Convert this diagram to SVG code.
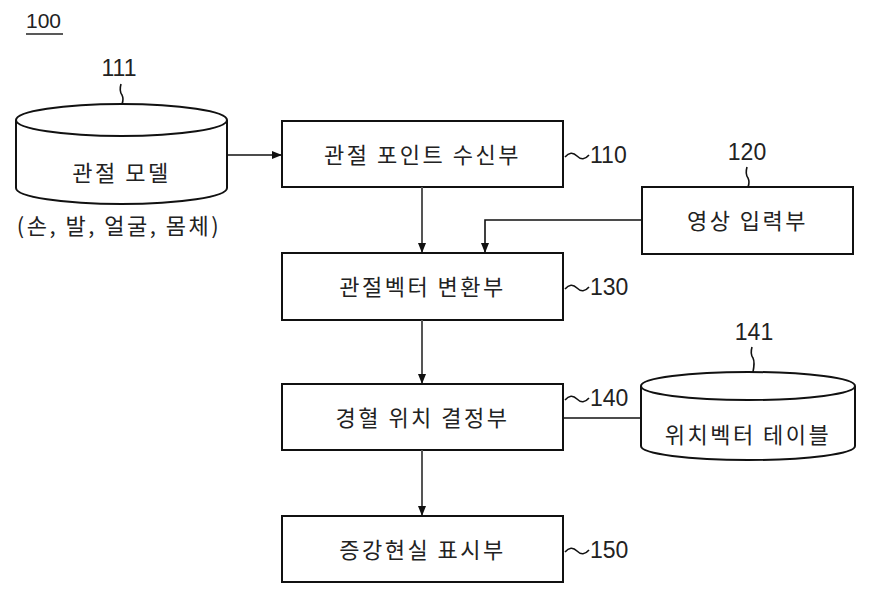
<svg xmlns="http://www.w3.org/2000/svg" width="874" height="601" viewBox="0 0 874 601">
<style>
.box{fill:#fff;stroke:#111;stroke-width:2}
.cyl{fill:#fff;stroke:#111;stroke-width:2}
.kt{font-family:"Noto Sans CJK KR","Noto Sans",sans-serif;font-size:22px;fill:#222;text-anchor:middle;letter-spacing:2.5px}
.num{font-family:"Liberation Sans",Arial,sans-serif;font-size:23px;fill:#222}
.ln{fill:none;stroke:#111;stroke-width:1.6}
.ar{fill:none;stroke:#555;stroke-width:2}
</style>
<defs>
<marker id="ah" markerWidth="10" markerHeight="10" refX="9" refY="5" orient="auto" markerUnits="userSpaceOnUse">
<path d="M0,1 L10,5 L0,9 Z" fill="#111"/>
</marker>
</defs>
<rect width="874" height="601" fill="#fff"/>
<g id="label100">
<text x="26" y="28" class="num" style="font-size:21px">100</text>
<line x1="26" y1="34" x2="63" y2="34" stroke="#222" stroke-width="1.6"/>
</g>
<g id="n111">
<path class="cyl" d="M16,120 L16,188 A105.5,16 0 0 0 227,188 L227,120"/>
<ellipse class="cyl" cx="121.5" cy="120" rx="105.5" ry="16"/>
<text x="121.5" y="181" class="kt">관절 모델</text>
<text x="119" y="234" class="kt">(손, 발, 얼굴, 몸체)</text>
<text x="119" y="76" class="num" text-anchor="middle">111</text>
<path class="ln" d="M121,84 q-2,7 1,11 q2,4 0,9"/>
</g>
<g id="n110">
<rect class="box" x="282" y="121" width="281" height="66"/>
<text x="422.5" y="163" class="kt">관절 포인트 수신부</text>
<path class="ln" d="M565,157 q6,-7 12,-1 t12,-1"/>
<text x="590" y="163" class="num">110</text>
</g>
<g id="n120">
<rect class="box" x="642" y="187" width="211" height="67"/>
<text x="747.5" y="229" class="kt">영상 입력부</text>
<text x="747" y="160" class="num" text-anchor="middle">120</text>
<path class="ln" d="M747,167 q-2,7 1,11 q2,4 0,9"/>
</g>
<g id="n130">
<rect class="box" x="282" y="253" width="281" height="67"/>
<text x="422.5" y="295" class="kt">관절벡터 변환부</text>
<path class="ln" d="M565,289 q6,-7 12,-1 t12,-1"/>
<text x="590" y="295" class="num">130</text>
</g>
<g id="n140">
<rect class="box" x="282" y="384" width="281" height="66"/>
<text x="422.5" y="426" class="kt">경혈 위치 결정부</text>
<path class="ln" d="M565,400 q6,-7 12,-1 t12,-1"/>
<text x="590" y="406" class="num">140</text>
</g>
<g id="n141">
<path class="cyl" d="M641,386 L641,446 A107,14 0 0 0 855,446 L855,386"/>
<ellipse class="cyl" cx="748" cy="386" rx="107" ry="14"/>
<text x="748" y="443" class="kt">위치벡터 테이블</text>
<text x="754" y="340" class="num" text-anchor="middle">141</text>
<path class="ln" d="M752,347 q-2,7 1,11 q2,4 0,14"/>
</g>
<g id="n150">
<rect class="box" x="282" y="516" width="281" height="66"/>
<text x="422.5" y="558" class="kt">증강현실 표시부</text>
<path class="ln" d="M565,552 q6,-7 12,-1 t12,-1"/>
<text x="590" y="558" class="num">150</text>
</g>
<g id="connectors">
<line x1="227" y1="155" x2="281" y2="155" stroke="#111" stroke-width="1.6" marker-end="url(#ah)"/>
<line x1="422" y1="187" x2="422" y2="252" class="ar" marker-end="url(#ah)"/>
<polyline points="642,220 485,220 485,252" fill="none" stroke="#111" stroke-width="1.6" marker-end="url(#ah)"/>
<line x1="422" y1="320" x2="422" y2="383" class="ar" marker-end="url(#ah)"/>
<line x1="563" y1="418" x2="641" y2="418" stroke="#111" stroke-width="1.6"/>
<line x1="422" y1="450" x2="422" y2="515" class="ar" marker-end="url(#ah)"/>
</g>
</svg>
